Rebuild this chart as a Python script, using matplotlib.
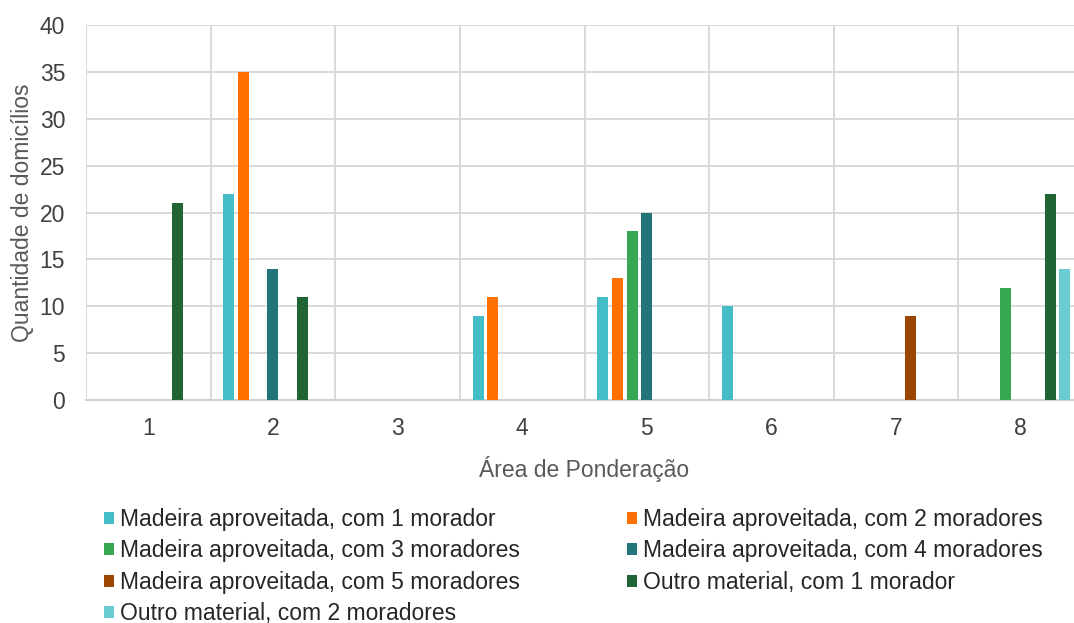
import matplotlib
matplotlib.use("Agg")
import matplotlib.pyplot as plt
import numpy as np
from matplotlib.patches import Patch

plt.rcParams["font.family"] = ["Liberation Sans", "DejaVu Sans"]

areas = [1, 2, 3, 4, 5, 6, 7, 8]
series_names = [
    "Madeira aproveitada, com 1 morador",
    "Madeira aproveitada, com 2 moradores",
    "Madeira aproveitada, com 3 moradores",
    "Madeira aproveitada, com 4 moradores",
    "Madeira aproveitada, com 5 moradores",
    "Outro material, com 1 morador",
    "Outro material, com 2 moradores",
]
madeira_1 = [0, 22, 0, 9, 11, 10, 0, 0]
madeira_2 = [0, 35, 0, 11, 13, 0, 0, 0]
madeira_3 = [0, 0, 0, 0, 18, 0, 0, 12]
madeira_4 = [0, 14, 0, 0, 20, 0, 0, 0]
madeira_5 = [0, 0, 0, 0, 0, 0, 9, 0]
outro_1 = [21, 11, 0, 0, 0, 0, 0, 22]
outro_2 = [0, 0, 0, 0, 0, 0, 0, 14]
series = [madeira_1, madeira_2, madeira_3, madeira_4, madeira_5, outro_1, outro_2]
colors = ["#45BDC6", "#FF7000", "#36A853", "#23747A", "#9C4500", "#216535", "#6ACCD3"]

FS = 16.5

fig = plt.figure(figsize=(10.74, 6.23), dpi=100)
# plot area runs past the right edge, as in the source image
ax = fig.add_axes([86 / 1074, 223 / 623, 997 / 1074, 375 / 623])

x = np.arange(len(areas)) + 1
step, width = 0.118, 0.088
for i, (vals, col) in enumerate(zip(series, colors)):
    offs = (i - 3) * step
    ax.bar(x + offs, vals, width=width, color=col, zorder=3)

ax.set_xlim(0.5, 8.5)
ax.set_ylim(0, 40)
ax.set_yticks(range(0, 41, 5))
ax.set_xticks(x)
ax.set_xticklabels([str(a) for a in areas])
ax.set_xticks(np.arange(0.5, 8.5, 1), minor=True)
ax.grid(True, axis="y", color="#D9D9D9", linewidth=1.4, zorder=0)
ax.grid(True, axis="x", which="minor", color="#D9D9D9", linewidth=1.4, zorder=0)
ax.grid(False, axis="x", which="major")
for side in ("top", "right", "left"):
    ax.spines[side].set_visible(False)
ax.spines["bottom"].set_color("#D0D0D0")
ax.spines["bottom"].set_linewidth(1.4)
ax.tick_params(axis="both", which="both", length=0, labelsize=FS, labelcolor="#404040")
ax.tick_params(axis="x", pad=12)
ax.tick_params(axis="y", pad=15)
ax.set_ylabel("Quantidade de domicílios", fontsize=FS, color="#595959", labelpad=4)
ax.set_xlabel("Área de Ponderação", fontsize=FS, color="#595959", labelpad=12)

handles = [Patch(facecolor=c, edgecolor="none") for c in colors]
order = [0, 2, 4, 6, 1, 3, 5]
fig.legend([handles[k] for k in order], [series_names[k] for k in order],
           ncol=2, frameon=False, fontsize=FS, labelcolor="#262626",
           loc="upper left", bbox_to_anchor=(104 / 1074, 1 - 508 / 623),
           handlelength=0.42, handleheight=0.42, handletextpad=0.3,
           columnspacing=4.65, labelspacing=0.37, borderaxespad=0, borderpad=0)

fig.savefig("out.png", dpi=100)
